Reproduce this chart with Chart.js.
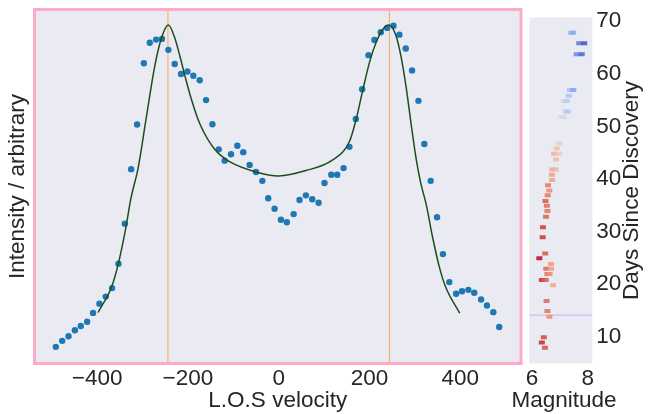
<!DOCTYPE html>
<html lang="en">
<head>
<meta charset="UTF-8">
<title>Line profile and light curve</title>
<script src="https://cdn.jsdelivr.net/npm/chart.js"></script>
<style>
    body { margin: 0; background: #fff; }
    .wrap { position: relative; width: 665px; height: 414px; }
    #profile { position: absolute; left: 0; top: 0; }
    #lightcurve { position: absolute; left: 500px; top: 0; }
</style>
</head>
<body>
<div class="wrap">
    <canvas id="profile" width="525" height="414" style="width:525px;height:414px"></canvas>
    <canvas id="lightcurve" width="165" height="414" style="width:165px;height:414px"></canvas>
</div>
<script>
// observed line profile
const velocity = [-491,-477,-463,-449,-436,-422,-409,-395,-381,-367,
    -353,-339,-325,-312,-297,-284,-270,-257,-243,-229,
    -215,-201,-188,-174,-160,-146,-132,-119,-105,-91,
    -78,-64,-50,-36,-23,-9,
    5,18,33,46,60,74,88,101,116,129,
    143,156,170,184,198,211,225,239,253,266,
    280,294,308,321,335,349,362,376,391,404,
    418,431,446,459,473,486];
const intensity = [4.7,6.4,7.7,9.4,10.6,11.8,14.3,16.9,18.9,21.3,
    28.2,39.5,54.9,67.5,84.8,90.6,91.5,91.7,88.6,84.6,
    81.8,82.5,81.3,80.0,74.4,67.6,60.5,57.3,59.1,61.5,
    59.7,56.1,54.1,51.6,46.7,43.7,
    40.6,39.9,42.2,46.2,47.5,46.4,45.4,51.0,53.3,53.3,
    55.2,61.2,69.1,77.5,87.1,91.4,93.6,94.8,95.4,92.9,
    89.0,82.8,74.2,62.0,51.6,41.3,30.9,23.0,19.7,20.4,
    20.8,20.0,18.1,16.4,14.5,10.3];

// model fit
const fitVelocity = [-398,-368,-354,-339,-325,-310,-291,-273,-258,-243,
    -229,-218,-204,-192,-174,-141,-108,-50,0,60,
    119,156,171,185,200,215,229,243,258,270,
    281,292,303,313,325,339,354,368,399];
const fitIntensity = [14.4,21.7,27.8,36.8,47.0,55.0,70.0,84.0,92.0,95.6,
    92.0,87.0,80.0,74.5,67.8,60.5,57.0,54.1,53.0,54.5,
    57.5,62.7,69.1,77.0,85.0,90.8,94.3,95.6,92.8,86.5,
    78.0,67.5,57.8,51.0,45.0,35.8,27.3,21.6,14.2];

const peakVelocities = [-244, 244];
const velocityTicks = [-400, -200, 0, 200, 400];

// light curve
const days = [67.8,67.8,65.8,65.8,63.7,63.7,56.9,56.9,55.8,54.8,
    54.8,52.8,52.8,51.8,51.8,46.8,45.8,44.8,44.8,43.7,
    41.8,41.8,40.8,39.8,38.8,37.8,36.9,35.8,34.9,33.9,
    32.8,30.8,28.9,25.8,24.9,23.8,22.9,22.9,21.9,21.9,
    20.8,20.8,19.8,16.8,14.9,13.8,9.9,8.9,7.9];
const magnitude = [7.39,7.47,7.69,7.87,7.60,7.78,7.36,7.48,7.32,7.15,
    7.25,7.21,7.29,7.05,7.13,6.97,6.88,6.79,6.97,6.86,
    6.73,6.85,6.71,6.72,6.57,6.62,6.56,6.48,6.53,6.55,
    6.50,6.39,6.38,6.47,6.26,6.68,6.51,6.68,6.55,6.63,
    6.35,6.49,6.75,6.52,6.55,6.62,6.42,6.35,6.46];
const markerDay = 14.1;
const magTicks = [6, 8];
const dayTicks = [10, 20, 30, 40, 50, 60, 70];

const FONT = '"Liberation Sans", Arial, sans-serif';
const FONT_SIZE = 22.5;
const TEXT = '#262626';
Chart.defaults.font.family = FONT;
Chart.defaults.font.size = FONT_SIZE;
Chart.defaults.color = TEXT;

// coolwarm-ish, red for bright, blue for faint
const cmapStops = [
    [6.25, [180, 4, 38]],
    [6.45, [215, 80, 65]],
    [6.65, [240, 150, 120]],
    [6.9, [240, 195, 170]],
    [7.1, [220, 220, 225]],
    [7.35, [165, 195, 250]],
    [7.6, [105, 135, 235]],
    [7.9, [55, 75, 195]]
];
function magColor(m) {
    if (m <= cmapStops[0][0]) return 'rgba(' + cmapStops[0][1].join(',') + ',0.85)';
    for (let i = 1; i < cmapStops.length; i++) {
        const [m1, c1] = cmapStops[i];
        const [m0, c0] = cmapStops[i - 1];
        if (m <= m1) {
            const t = (m - m0) / (m1 - m0);
            const c = c0.map((v, k) => Math.round(v + (c1[k] - v) * t));
            return 'rgba(' + c.join(',') + ',0.85)';
        }
    }
    return 'rgba(' + cmapStops[cmapStops.length - 1][1].join(',') + ',0.85)';
}

function fmt(v) {
    return v < 0 ? '\u2212' + Math.abs(v) : String(v);
}

const panel = {
    id: 'panel',
    beforeDraw(chart, args, opts) {
        const { ctx, chartArea: a } = chart;
        ctx.save();
        ctx.fillStyle = '#eaeaf2';
        ctx.fillRect(a.left, a.top, a.right - a.left, a.bottom - a.top);
        ctx.restore();
    },
    afterDraw(chart, args, opts) {
        const { ctx, chartArea: a } = chart;
        ctx.save();
        if (opts.border) {
            ctx.strokeStyle = opts.border;
            ctx.lineWidth = 3;
            ctx.strokeRect(a.left, a.top, a.right - a.left, a.bottom - a.top);
        }
        ctx.font = FONT_SIZE + 'px ' + FONT;
        ctx.fillStyle = TEXT;
        ctx.textAlign = 'center';
        ctx.textBaseline = 'middle';
        if (opts.xTitle) {
            ctx.fillText(opts.xTitle, opts.xTitleX, opts.xTitleY);
        }
        if (opts.yTitle) {
            ctx.translate(opts.yTitleX, (a.top + a.bottom) / 2);
            ctx.rotate(-Math.PI / 2);
            ctx.fillText(opts.yTitle, 0, 0);
        }
        ctx.restore();
    }
};

const vlines = peakVelocities.map(v => ({
    data: [{ x: v, y: 0 }, { x: v, y: 100 }],
    showLine: true,
    borderColor: '#ffa552',
    borderWidth: 1,
    pointRadius: 0,
    order: 3
}));

new Chart(document.getElementById('profile'), {
    type: 'scatter',
    data: {
        datasets: [
            {
                data: fitVelocity.map((v, i) => ({ x: v, y: fitIntensity[i] })),
                showLine: true,
                borderColor: '#1a4f1c',
                borderWidth: 1.5,
                pointRadius: 0,
                cubicInterpolationMode: 'monotone',
                order: 1
            },
            {
                data: velocity.map((v, i) => ({ x: v, y: intensity[i] })),
                backgroundColor: '#1f77b4',
                borderWidth: 0,
                pointRadius: 3.2,
                order: 2
            },
            ...vlines
        ]
    },
    options: {
        responsive: false,
        animation: false,
        layout: { padding: { left: 0, top: 9.5, right: 3, bottom: 0 } },
        plugins: {
            legend: { display: false },
            tooltip: { enabled: false },
            panel: { border: '#ffa8c8' }
        },
        scales: {
            x: {
                type: 'linear',
                min: -538,
                max: 534,
                afterBuildTicks: s => { s.ticks = velocityTicks.map(v => ({ value: v })); },
                afterFit: s => { s.height = 50.5; },
                ticks: { padding: 2, callback: v => fmt(v) },
                grid: { display: false, drawTicks: false },
                border: { display: false },
                title: { display: true, text: 'L.O.S velocity', padding: { top: 0, bottom: 0 } }
            },
            y: {
                min: 0,
                max: 100,
                afterFit: s => { s.width = 34.5; },
                ticks: { display: false },
                grid: { display: false, drawTicks: false },
                border: { display: false },
                title: { display: true, text: 'Intensity / arbitrary', padding: { top: 4, bottom: 0 } }
            }
        }
    },
    plugins: [panel]
});

new Chart(document.getElementById('lightcurve'), {
    type: 'scatter',
    data: {
        datasets: [
            {
                data: days.map((d, i) => ({ x: magnitude[i], y: d })),
                pointStyle: 'line',
                pointRadius: 3,
                borderWidth: 4,
                borderColor: magnitude.map(magColor),
                order: 1
            },
            {
                data: [{ x: 5.9, y: markerDay }, { x: 8.16, y: markerDay }],
                showLine: true,
                borderColor: '#c9b3f5',
                borderWidth: 1,
                pointRadius: 0,
                order: 2
            }
        ]
    },
    options: {
        responsive: false,
        animation: false,
        layout: { padding: { left: 29.3, top: 9.5, right: 0, bottom: 0 } },
        plugins: {
            legend: { display: false },
            tooltip: { enabled: false },
            panel: { xTitle: 'Magnitude', xTitleX: 64, xTitleY: 401, yTitle: 'Days Since Discovery', yTitleX: 132 }
        },
        scales: {
            x: {
                type: 'linear',
                min: 5.9,
                max: 8.16,
                afterBuildTicks: s => { s.ticks = magTicks.map(v => ({ value: v })); },
                afterFit: s => { s.height = 50.5; },
                ticks: { padding: 2 },
                grid: { display: false, drawTicks: false },
                border: { display: false }
            },
            y: {
                position: 'right',
                min: 4.9,
                max: 70.7,
                afterBuildTicks: s => { s.ticks = dayTicks.map(v => ({ value: v })); },
                afterFit: s => { s.width = 72.7; },
                ticks: { padding: 4 },
                grid: { display: false, drawTicks: false },
                border: { display: false }
            }
        }
    },
    plugins: [panel]
});
</script>
</body>
</html>
